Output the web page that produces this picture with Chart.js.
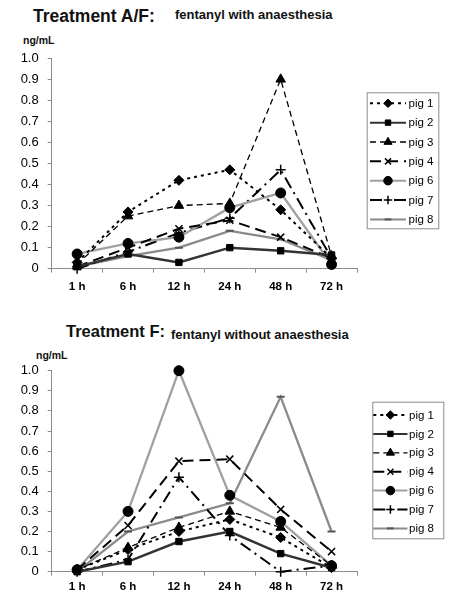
<!DOCTYPE html>
<html><head><meta charset="utf-8">
<script src="https://cdn.jsdelivr.net/npm/chart.js@4/dist/chart.umd.min.js"></script>
<style>
body{margin:0;background:#fff;width:454px;height:600px;position:relative;overflow:hidden;font-family:'Liberation Sans',Arial,sans-serif;}
.t{position:absolute;font-weight:bold;color:#111;white-space:nowrap;line-height:normal;}
.cv{position:absolute;left:0;}
</style></head><body>
<div class="t" style="left:33px;top:6px;font-size:17.5px">Treatment A/F:</div>
<div class="t" style="left:175px;top:6.5px;font-size:13px">fentanyl with anaesthesia</div>
<div class="t" style="left:23px;top:33.8px;font-size:10.5px">ng/mL</div>
<div class="t" style="left:66px;top:321.5px;font-size:16.5px">Treatment F:</div>
<div class="t" style="left:171px;top:326.5px;font-size:13px">fentanyl without anaesthesia</div>
<div class="t" style="left:36px;top:348.8px;font-size:10.5px">ng/mL</div>
<div class="cv" style="top:0;width:454px;height:300px"><canvas id="c1" width="454" height="300"></canvas></div>
<div class="cv" style="top:310px;width:454px;height:290px"><canvas id="c2" width="454" height="290"></canvas></div>
<script>
// ---- data ----
const categories = ['1 h', '6 h', '12 h', '24 h', '48 h', '72 h'];
const pigLabels = ['pig 1', 'pig 2', 'pig 3', 'pig 4', 'pig 6', 'pig 7', 'pig 8'];
const yTickLabels = ['0', '0.1', '0.2', '0.3', '0.4', '0.5', '0.6', '0.7', '0.8', '0.9', '1.0'];

// Treatment A/F: fentanyl with anaesthesia (ng/mL)
const af_pig1 = [0.03, 0.27, 0.42, 0.47, 0.28, 0.05];
const af_pig2 = [0.01, 0.07, 0.03, 0.10, 0.085, 0.065];
const af_pig3 = [0.02, 0.25, 0.30, 0.31, 0.90, 0.06];
const af_pig4 = [0.01, 0.10, 0.19, 0.23, 0.15, 0.05];
const af_pig6 = [0.07, 0.12, 0.15, 0.29, 0.36, 0.02];
const af_pig7 = [0.00, 0.08, 0.17, 0.24, 0.47, 0.05];
const af_pig8 = [0.01, 0.06, 0.10, 0.18, 0.14, 0.04];

// Treatment F: fentanyl without anaesthesia (ng/mL)
const f_pig1 = [0.01, 0.11, 0.20, 0.26, 0.17, 0.02];
const f_pig2 = [0.00, 0.05, 0.15, 0.20, 0.09, 0.02];
const f_pig3 = [0.01, 0.12, 0.22, 0.30, 0.22, 0.03];
const f_pig4 = [0.01, 0.23, 0.55, 0.56, 0.31, 0.10];
const f_pig6 = [0.01, 0.30, 1.00, 0.38, 0.25, 0.03];
const f_pig7 = [0.00, 0.06, 0.47, 0.18, 0.00, 0.03];
const f_pig8 = [0.00, 0.20, 0.27, 0.34, 0.87, 0.20];

// ---- styles ----
const styles = [
  {borderColor:'#000', borderWidth:2, borderDash:[3,4], pointStyle:'rectRot', pointRadius:5, pointBorderWidth:1},
  {borderColor:'#333', borderWidth:2.5, borderDash:[], pointStyle:'rect', pointRadius:4.5, pointBorderWidth:1},
  {borderColor:'#000', borderWidth:1.3, borderDash:[6,4], pointStyle:'triangle', pointRadius:5.5, pointBorderWidth:1},
  {borderColor:'#000', borderWidth:2, borderDash:[11,6], pointStyle:'crossRot', pointRadius:5, pointBorderWidth:1.5},
  {borderColor:'#a0a0a0', borderWidth:2.3, borderDash:[], pointStyle:'circle', pointRadius:5, pointBorderWidth:1},
  {borderColor:'#000', borderWidth:2, borderDash:[12,5,2,5], pointStyle:'cross', pointRadius:5, pointBorderWidth:1.5},
  {borderColor:'#8a8a8a', borderWidth:2.3, borderDash:[], pointStyle:'line', pointRadius:4, pointBorderWidth:2, pointBorderColor:'#555'}
];

function makeDatasets(series) {
  return series.map((vals, i) => {
    const s = styles[i];
    return {
      label: pigLabels[i], data: vals,
      borderColor: s.borderColor, borderWidth: s.borderWidth, borderDash: s.borderDash,
      pointStyle: s.pointStyle, pointRadius: s.pointRadius, pointHoverRadius: s.pointRadius,
      pointBackgroundColor: '#000', pointBorderColor: s.pointBorderColor || '#000',
      pointBorderWidth: s.pointBorderWidth, tension: 0, fill: false, clip: 10
    };
  });
}

const legendPlugin = {
  id: 'pigLegend',
  afterDraw(chart, args, o) {
    const ctx = chart.ctx;
    ctx.save();
    ctx.fillStyle = '#fff'; ctx.strokeStyle = '#8c8c8c'; ctx.lineWidth = 1;
    ctx.fillRect(o.x, o.y, o.w, o.h);
    ctx.strokeRect(o.x + 0.5, o.y + 0.5, o.w, o.h);
    chart.data.datasets.forEach((ds, i) => {
      const cy = o.rowTop + i * o.rowGap;
      ctx.save();
      ctx.strokeStyle = ds.borderColor; ctx.lineWidth = Math.min(ds.borderWidth, 2);
      ctx.setLineDash(ds.borderDash || []);
      ctx.beginPath(); ctx.moveTo(o.l0, cy); ctx.lineTo(o.l1, cy); ctx.stroke();
      ctx.setLineDash([]);
      ctx.fillStyle = ds.pointBackgroundColor; ctx.strokeStyle = ds.pointBorderColor;
      ctx.lineWidth = ds.pointBorderWidth;
      Chart.helpers.drawPoint(ctx, {pointStyle: ds.pointStyle, radius: ds.pointRadius * 0.85, rotation: 0, borderWidth: ds.pointBorderWidth}, (o.l0 + o.l1) / 2, cy);
      ctx.restore();
      ctx.fillStyle = '#000'; ctx.font = '11.5px "Liberation Sans", Arial';
      ctx.textBaseline = 'middle'; ctx.textAlign = 'left';
      ctx.fillText(ds.label, o.tx, cy + 0.5);
    });
    ctx.restore();
  }
};

function makeChart(id, series, padTop, padBottom, xPad, xH, legend) {
  return new Chart(document.getElementById(id), {
    type: 'line',
    data: { labels: categories, datasets: makeDatasets(series) },
    plugins: [legendPlugin],
    options: {
      responsive: false, animation: false, events: [],
      layout: { padding: { left: 0, top: padTop, right: 97, bottom: padBottom } },
      plugins: { legend: { display: false }, tooltip: { enabled: false }, pigLegend: legend },
      scales: {
        x: {
          offset: true,
          grid: { offset: true, drawOnChartArea: false, drawTicks: true, tickLength: 4, color: '#8c8c8c', lineWidth: 1 },
          border: { display: true, color: '#8c8c8c', width: 1 },
          ticks: { color: '#000', padding: xPad, font: { family: 'Liberation Sans', size: 11.5, weight: 'bold' }, maxRotation: 0 },
          afterFit: s => { s.height = xH; }
        },
        y: {
          min: 0, max: 1,
          grid: { drawOnChartArea: false, drawTicks: true, tickLength: 4, color: '#8c8c8c', lineWidth: 1 },
          border: { display: true, color: '#8c8c8c', width: 1 },
          ticks: { stepSize: 0.1, color: '#000', padding: 9, font: { family: 'Liberation Sans', size: 13 },
                   callback: (v, i) => yTickLabels[i] },
          afterFit: s => { s.width = 51.7; }
        }
      }
    }
  });
}

makeChart('c1', [af_pig1, af_pig2, af_pig3, af_pig4, af_pig6, af_pig7, af_pig8], 58.3, 1.3, 7, 30,
  { x: 366.7, y: 92.3, w: 71.6, h: 136, rowTop: 103.3, rowGap: 19.35, l0: 370, l1: 406, tx: 408.5 });
makeChart('c2', [f_pig1, f_pig2, f_pig3, f_pig4, f_pig6, f_pig7, f_pig8], 60.7, 0.3, 4, 28,
  { x: 372.3, y: 91.7, w: 71, h: 136.6, rowTop: 105, rowGap: 18.9, l0: 373.3, l1: 407.5, tx: 409 });
</script>
</body></html>
